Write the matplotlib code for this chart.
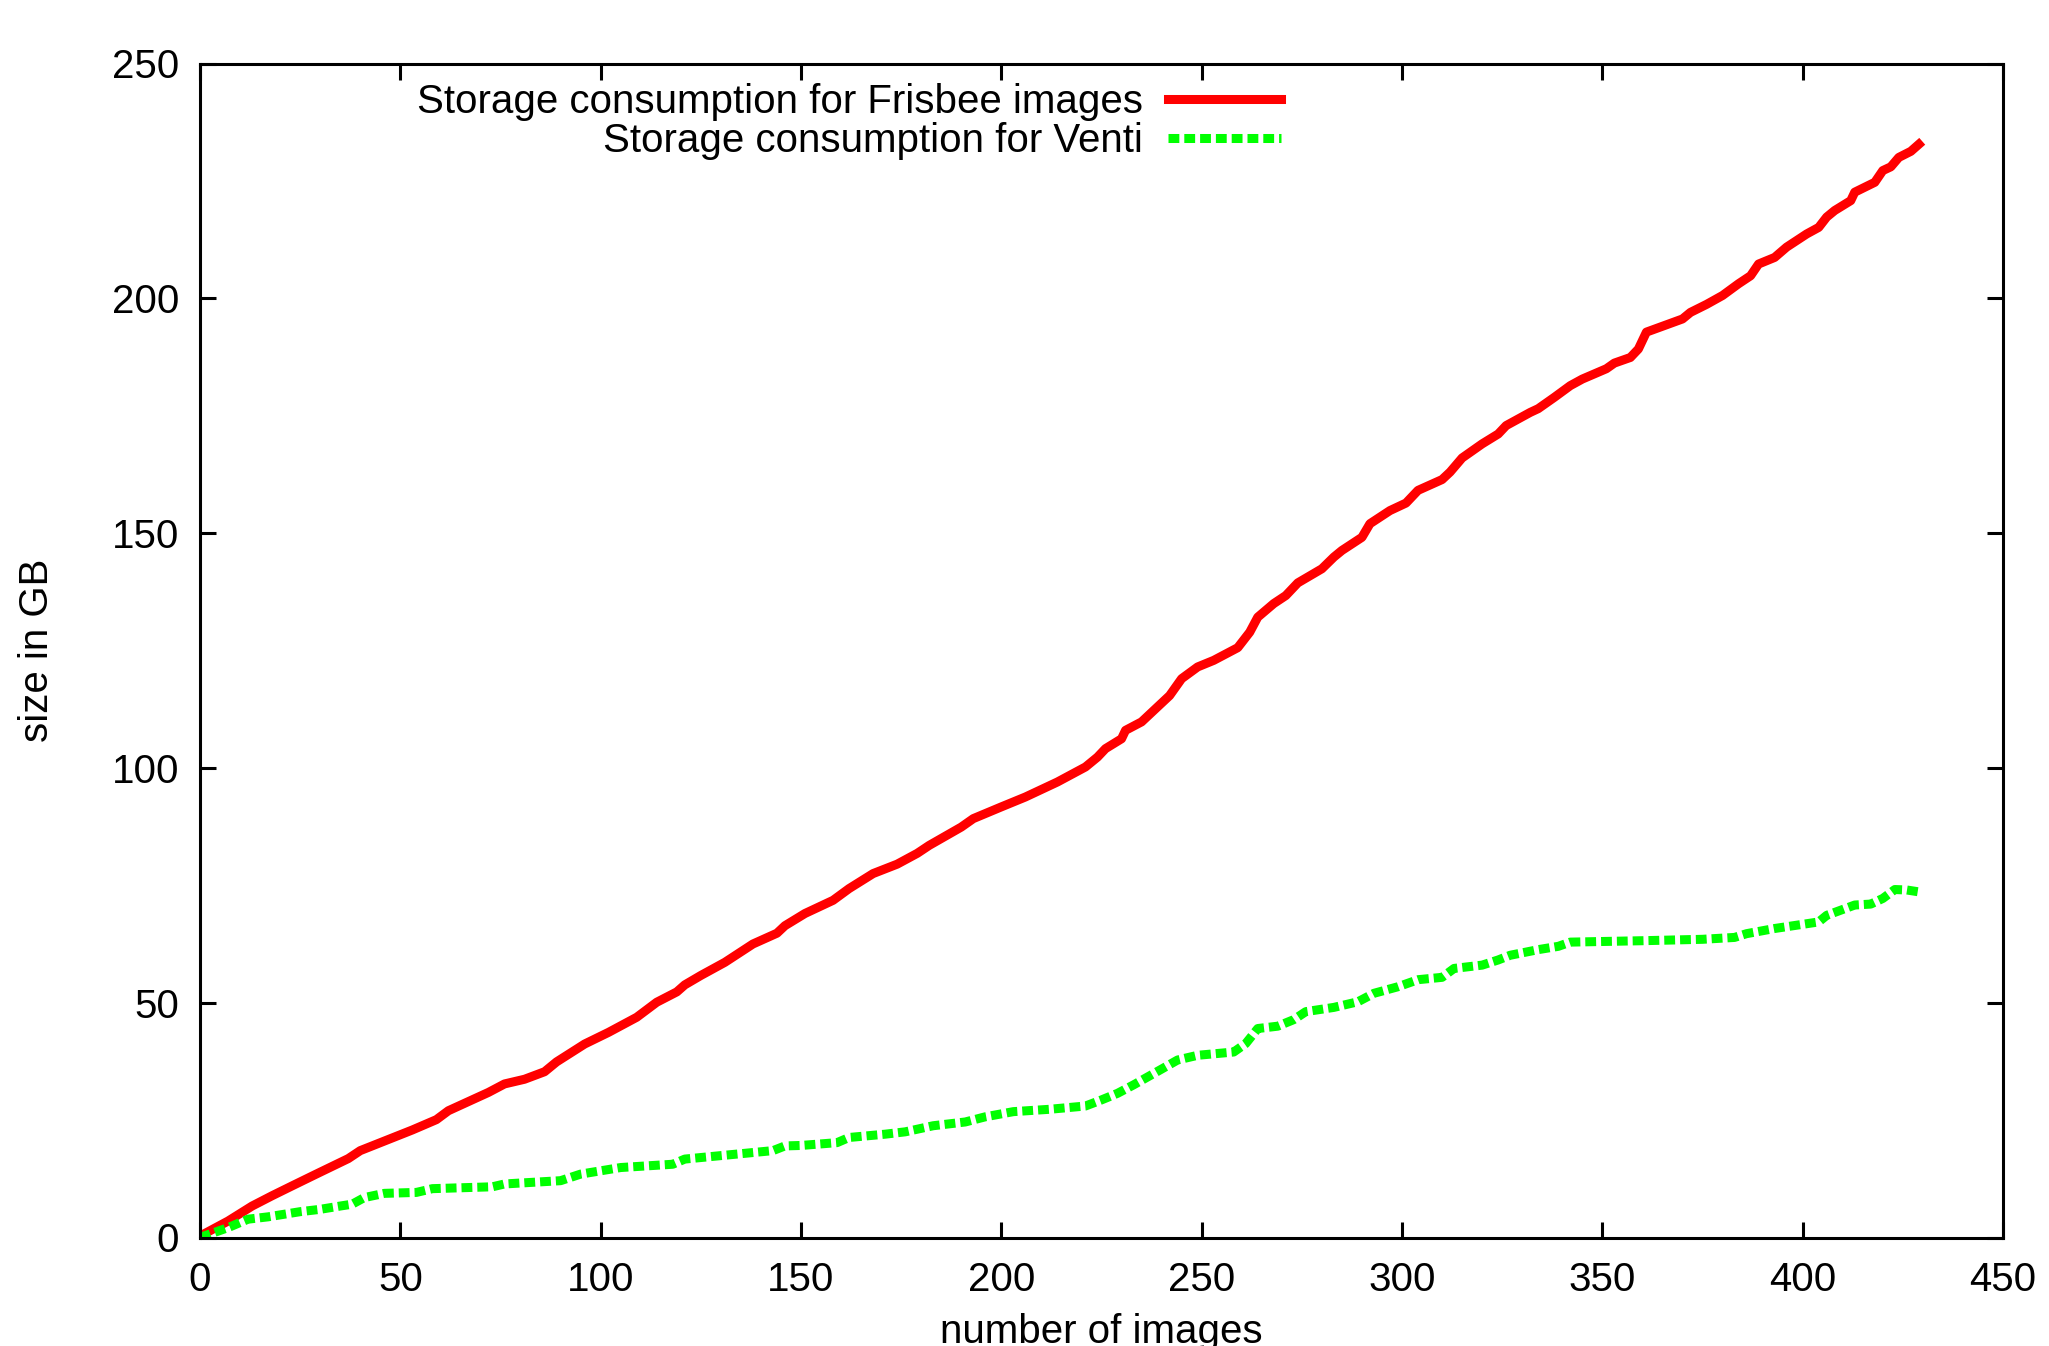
import numpy as np
import matplotlib
matplotlib.use("Agg")
import matplotlib.pyplot as plt

# values (number of images, size in GB)
frisbee_x = [0, 7, 13, 18, 23, 29, 37, 40, 53, 59, 62, 72, 76, 81, 86, 89, 96, 102,
             109, 114, 119, 121, 125, 131, 138, 144, 146, 151, 158, 162, 168, 174,
             179, 182, 190, 193, 200, 206, 214, 221, 224, 226, 230, 231, 235, 239,
             242, 245, 249, 253, 259, 262, 264, 268, 271, 274, 280, 283, 285, 290,
             292, 297, 301, 304, 310, 312, 315, 320, 324, 326, 332, 334, 338, 342,
             345, 351, 353, 357, 359, 361, 370, 372, 376, 380, 384, 387, 389, 393,
             396, 401, 404, 406, 408, 412, 413, 418, 420, 422, 424, 427, 429]
frisbee_gb = [0.3, 3.5, 6.7, 8.9, 11.0, 13.5, 16.8, 18.5, 22.9, 25.1, 27.0, 30.9,
              32.7, 33.7, 35.3, 37.4, 41.2, 43.7, 46.9, 50.1, 52.3, 53.8, 55.8, 58.6,
              62.5, 64.8, 66.4, 69.0, 71.8, 74.3, 77.5, 79.5, 81.8, 83.5, 87.4, 89.2,
              91.7, 93.8, 97.0, 100.2, 102.3, 104.1, 106.2, 108.0, 109.8, 113.0,
              115.4, 119.0, 121.5, 122.9, 125.6, 128.9, 132.1, 135.0, 136.7, 139.4,
              142.4, 144.9, 146.3, 149.1, 152.0, 154.8, 156.4, 159.1, 161.4, 163.0,
              166.0, 169.0, 171.1, 172.9, 175.7, 176.5, 178.9, 181.4, 182.8, 185.0,
              186.2, 187.4, 189.2, 192.8, 195.6, 197.0, 198.7, 200.6, 203.1, 204.8,
              207.3, 208.7, 210.9, 213.7, 215.1, 217.3, 218.7, 220.8, 222.6, 224.7,
              227.2, 228.0, 230.0, 231.3, 232.8]

venti_x = [0, 7, 12, 17, 25, 30, 35, 38, 41, 46, 54, 58, 73, 76, 90, 95, 105, 118,
           121, 143, 146, 150, 159, 162, 171, 176, 183, 191, 196, 203, 212, 221, 225,
           229, 233, 238, 244, 249, 258, 261, 264, 269, 273, 276, 283, 289, 293, 299,
           304, 310, 313, 320, 324, 327, 334, 339, 342, 360, 375, 383, 386, 393, 404,
           406, 413, 417, 420, 423, 426, 429]
venti_gb = [0.0, 2.1, 3.9, 4.4, 5.5, 6.0, 6.7, 7.1, 8.5, 9.4, 9.6, 10.4, 10.8, 11.4,
            12.1, 13.5, 14.9, 15.6, 16.7, 18.5, 19.5, 19.6, 20.2, 21.3, 22.0, 22.5,
            23.8, 24.6, 25.7, 26.8, 27.3, 28.0, 29.3, 30.7, 32.5, 34.9, 37.8, 38.8,
            39.5, 41.3, 44.5, 45.0, 46.4, 48.1, 49.0, 50.2, 52.0, 53.4, 54.9, 55.4,
            57.3, 58.0, 59.1, 60.1, 61.3, 62.0, 62.9, 63.2, 63.5, 63.9, 64.7, 65.8,
            67.2, 68.6, 70.8, 71.0, 72.2, 74.1, 74.0, 73.6]

x_ticks = [0, 50, 100, 150, 200, 250, 300, 350, 400, 450]
y_ticks = [0, 50, 100, 150, 200, 250]

plt.rcParams['font.family'] = ['Liberation Sans', 'DejaVu Sans']
FS = 29

fig = plt.figure(figsize=(20.49, 13.46), dpi=100)
ax = fig.add_axes([200 / 2049, 1 - 1237.5 / 1346, 1803 / 2049, 1174 / 1346])

ax.plot(frisbee_x, frisbee_gb, color="#ff0000", lw=6.5,
        label="Storage consumption for Frisbee images")
ax.plot(venti_x, venti_gb, color="#00ff00", lw=6.5, linestyle=(0, (1.2, 0.55)),
        label="Storage consumption for Venti")

ax.set_xlim(0, 450)
ax.set_ylim(0, 250)
ax.set_xticks(x_ticks)
ax.set_yticks(y_ticks)
ax.tick_params(direction="in", length=11.5, width=2.2, labelsize=FS,
               top=True, right=True)
ax.tick_params(axis="x", pad=17)
ax.tick_params(axis="y", pad=15)
for s in ax.spines.values():
    s.set_linewidth(2.2)

ax.set_xlabel("number of images", fontsize=FS)
ax.xaxis.set_label_coords(0.5, -0.064)
ax.set_ylabel("size in GB", fontsize=FS)
ax.yaxis.set_label_coords(-0.0904, 0.5)
ax.yaxis.label.set_va("center")

ax.legend(loc="upper right", bbox_to_anchor=(1281 / 2049, 1 - 83 / 1346),
          bbox_transform=fig.transFigure, frameon=False, markerfirst=False,
          fontsize=FS, handlelength=2.8, handletextpad=0.62,
          labelspacing=0.02, borderpad=0, borderaxespad=0)

fig.savefig("out.png", dpi=100)
